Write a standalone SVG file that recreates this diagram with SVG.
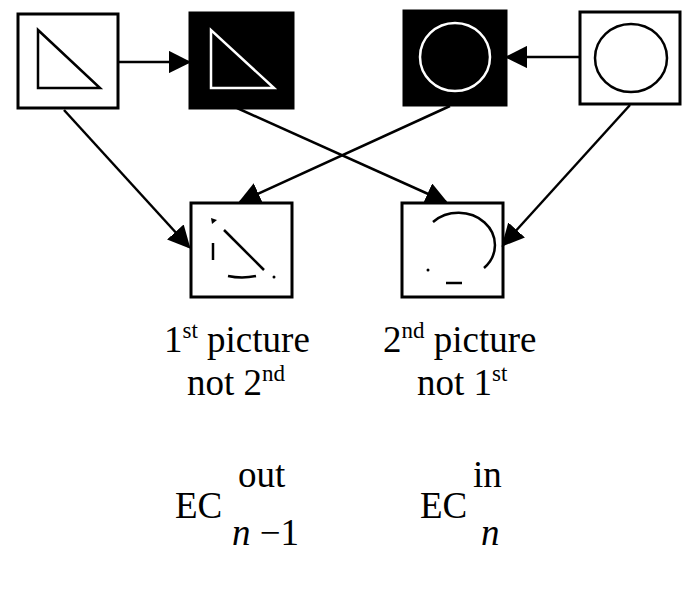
<svg xmlns="http://www.w3.org/2000/svg" width="692" height="595" viewBox="0 0 692 595">
<style>
.box{stroke:#000;stroke-width:3}
.t{font-family:"Liberation Serif",serif;font-size:37px;fill:#000}
.s{font-size:23px}
.c{stroke:#000;stroke-width:2.5;fill:none}
</style>
<defs><marker id="ah" viewBox="0 0 10 10" refX="9" refY="5" markerWidth="9" markerHeight="9" orient="auto"><path d="M0,0L10,5L0,10z"/></marker></defs>
<rect width="692" height="595" fill="#fff"/>
<g id="n1"><rect class="box" x="18" y="14" width="100" height="94" fill="#fff"/><path d="M38,30V88H100Z" fill="none" stroke="#000" stroke-width="2.5"/></g>
<g id="n2"><rect class="box" x="190" y="13" width="103" height="95" fill="#000"/><path d="M211,30V88H274Z" fill="none" stroke="#fff" stroke-width="2.5"/></g>
<g id="n3"><rect class="box" x="404" y="11" width="102" height="94" fill="#000"/><ellipse cx="455" cy="57" rx="35" ry="34" fill="none" stroke="#fff" stroke-width="2.5"/></g>
<g id="n4"><rect class="box" x="580" y="12" width="100" height="92" fill="#fff"/><ellipse cx="631" cy="58" rx="36" ry="34" fill="none" stroke="#000" stroke-width="2.5"/></g>
<g id="n5"><rect class="box" x="191" y="203" width="101" height="94" fill="#fff"/>
<path d="M211,218L217,220L212,224Z"/><path d="M224,230L264,270" class="c"/><path d="M213,243V260" class="c"/><path d="M228,276Q242,279 256,276" class="c"/><circle cx="274" cy="277" r="1.5"/></g>
<g id="n6"><rect class="box" x="402" y="203" width="101" height="94" fill="#fff"/>
<path d="M433,222A34,30 0 0 1 484,268" class="c"/><circle cx="428" cy="270" r="1.5"/><path d="M446,283H462" class="c"/></g>
<g id="edges" stroke="#000" stroke-width="2.5" fill="none">
<path d="M118,62H189" marker-end="url(#ah)"/>
<path d="M580,57H507" marker-end="url(#ah)"/>
<path d="M64,110L189,247" marker-end="url(#ah)"/>
<path d="M237,108L446,202" marker-end="url(#ah)"/>
<path d="M450,106L240,202" marker-end="url(#ah)"/>
<path d="M630,105L503,245" marker-end="url(#ah)"/>
</g>
<g id="labels">
<text class="t" x="164" y="352">1<tspan class="s" dy="-14">st</tspan><tspan dy="14"> picture</tspan></text>
<text class="t" x="187" y="395">not 2<tspan class="s" dy="-14">nd</tspan></text>
<text class="t" x="383" y="352">2<tspan class="s" dy="-14">nd</tspan><tspan dy="14"> picture</tspan></text>
<text class="t" x="417" y="395">not 1<tspan class="s" dy="-14">st</tspan></text>
<text class="t" x="175" y="518">EC</text><text class="t" x="238" y="487">out</text><text class="t" x="232" y="545"><tspan font-style="italic">n</tspan> −1</text>
<text class="t" x="420" y="518">EC</text><text class="t" x="473" y="487">in</text><text class="t" x="481" y="545" font-style="italic">n</text>
</g>
</svg>
